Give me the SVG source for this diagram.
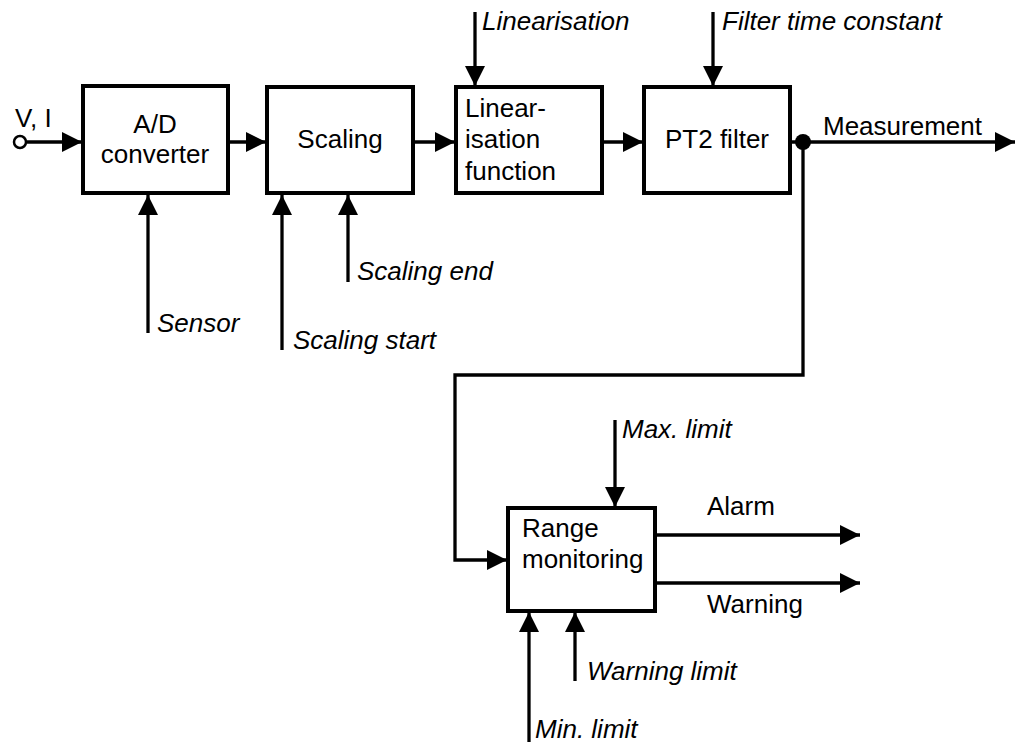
<svg xmlns="http://www.w3.org/2000/svg" width="1020" height="742" viewBox="0 0 1020 742">
<defs>
<marker id="ah" markerUnits="userSpaceOnUse" markerWidth="20" markerHeight="20" refX="20" refY="10" orient="auto" viewBox="0 0 20 20">
<path d="M0,0 L20,10 L0,20 z" fill="#000"/>
</marker>
<style>
.box{fill:#fff;stroke:#000;stroke-width:4}
.c{fill:none;stroke:#000;stroke-width:3.3}
.a{marker-end:url(#ah)}
text{font-family:"Liberation Sans",Arial,sans-serif;font-size:26px;fill:#000}
.i{font-style:italic}
.m{text-anchor:middle}
</style>
</defs>
<rect width="1020" height="742" fill="#fff"/>
<g id="connectors">
<line class="c a" x1="27" y1="142" x2="82" y2="142"/>
<circle cx="20" cy="142" r="6" fill="#fff" stroke="#000" stroke-width="2.5"/>
<line class="c a" x1="229" y1="142" x2="266" y2="142"/>
<line class="c a" x1="414" y1="142" x2="455" y2="142"/>
<line class="c a" x1="603" y1="142" x2="643" y2="142"/>
<line class="c a" x1="790" y1="142" x2="1015" y2="142"/>
<circle cx="803" cy="142" r="8" fill="#000"/>
<polyline class="c a" points="803,142 803,375 455,375 455,560 507,560"/>
<line class="c a" x1="148" y1="333" x2="148" y2="195"/>
<line class="c a" x1="282" y1="350" x2="282" y2="195"/>
<line class="c a" x1="348" y1="282" x2="348" y2="195"/>
<line class="c a" x1="475" y1="12" x2="475" y2="86"/>
<line class="c a" x1="713" y1="12" x2="713" y2="86"/>
<line class="c a" x1="615" y1="420" x2="615" y2="507"/>
<line class="c a" x1="529" y1="742" x2="529" y2="612"/>
<line class="c a" x1="575" y1="681" x2="575" y2="612"/>
<line class="c a" x1="656" y1="535" x2="860" y2="535"/>
<line class="c a" x1="656" y1="583" x2="860" y2="583"/>
</g>
<g id="ad">
<rect class="box" x="83" y="86" width="145" height="107"/>
<text class="m" x="155" y="133">A/D</text>
<text class="m" x="155" y="163">converter</text>
</g>
<g id="scaling">
<rect class="box" x="267" y="87" width="146" height="106"/>
<text class="m" x="340" y="148">Scaling</text>
</g>
<g id="linearisation">
<rect class="box" x="456" y="87" width="146" height="106"/>
<text x="465" y="117">Linear-</text>
<text x="465" y="148">isation</text>
<text x="465" y="180">function</text>
</g>
<g id="pt2">
<rect class="box" x="644" y="87" width="146" height="106"/>
<text class="m" x="717" y="148">PT2 filter</text>
</g>
<g id="range">
<rect class="box" x="508" y="508" width="147" height="103"/>
<text x="522" y="537">Range</text>
<text x="522" y="568">monitoring</text>
</g>
<g id="labels">
<text x="15" y="127">V, I</text>
<text x="823" y="135">Measurement</text>
<text class="i" x="482" y="30">Linearisation</text>
<text class="i" x="722" y="30">Filter time constant</text>
<text class="i" x="157" y="332">Sensor</text>
<text class="i" x="293" y="349">Scaling start</text>
<text class="i" x="357" y="280">Scaling end</text>
<text class="i" x="622" y="438">Max. limit</text>
<text x="707" y="515">Alarm</text>
<text x="707" y="613">Warning</text>
<text class="i" x="587" y="680">Warning limit</text>
<text class="i" x="535" y="738">Min. limit</text>
</g>
</svg>
